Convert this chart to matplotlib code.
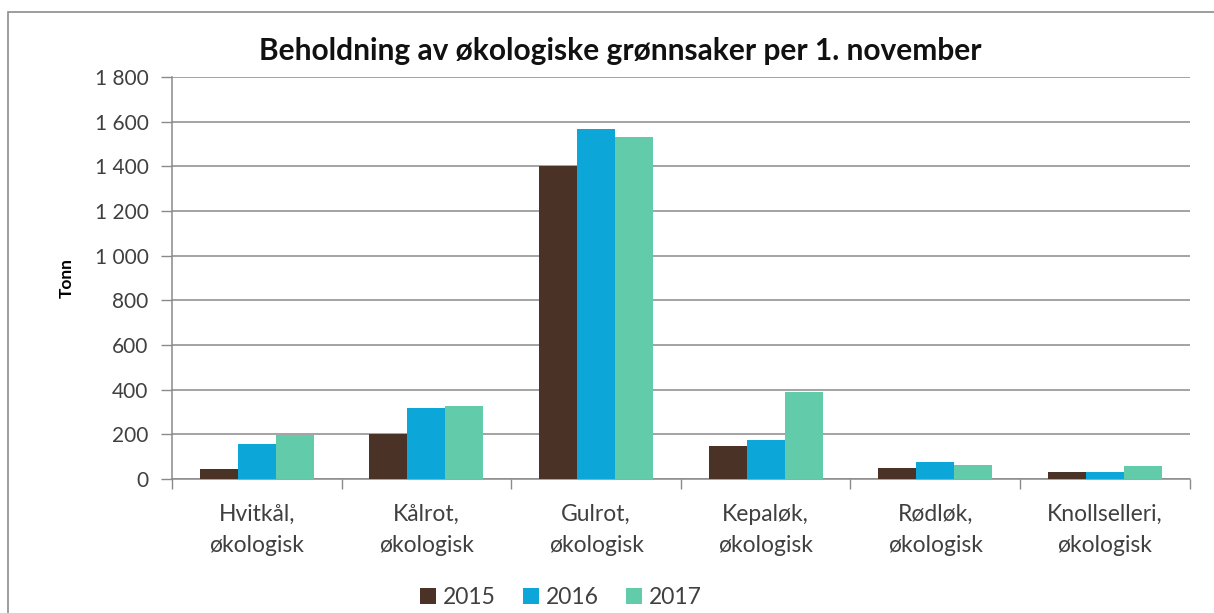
import numpy as np
import matplotlib.pyplot as plt
from matplotlib.patches import Rectangle
from matplotlib.ticker import FuncFormatter

# data (tonn)
categories = ['Hvitkål,\nøkologisk', 'Kålrot,\nøkologisk', 'Gulrot,\nøkologisk',
              'Kepaløk,\nøkologisk', 'Rødløk,\nøkologisk', 'Knollselleri,\nøkologisk']
years = ['2015', '2016', '2017']
v2015 = [46, 200, 1403, 148, 48, 30]
v2016 = [156, 316, 1567, 175, 75, 30]
v2017 = [195, 327, 1531, 390, 64, 57]
colors = ['#4B3227', '#0DA6D8', '#62CBA9']

plt.rcParams['font.family'] = ['Lato', 'DejaVu Sans']

fig = plt.figure(figsize=(12.14, 6.13), dpi=100)
ax = fig.add_axes([0.1417, 0.2186, 0.8383, 0.6558])

# chart frame like the spreadsheet export
fig.patches.append(Rectangle((0.007, -0.01), 1.2, 0.99, transform=fig.transFigure,
                             fill=False, edgecolor='#8c8c8c', linewidth=1.2))

x = np.arange(len(categories))
w = 0.224
for i, (vals, yr) in enumerate(zip([v2015, v2016, v2017], years)):
    ax.bar(x + (i - 1) * w, vals, width=w, color=colors[i], label=yr, zorder=3)

ax.set_xlim(-0.5, len(categories) - 0.5)
ax.set_ylim(0, 1800)
ax.set_yticks(np.arange(0, 1801, 200))
ax.yaxis.set_major_formatter(FuncFormatter(lambda v, p: f'{int(v):,}'.replace(',', ' ')))
ax.grid(axis='y', color='#8a8a8a', linewidth=1.1, zorder=0)

ax.set_xticks(x)
ax.set_xticklabels(categories, fontsize=16.5, color='#404040', linespacing=1.6)
ax.set_xticks(np.arange(-0.5, len(categories)), minor=True)
ax.tick_params(axis='x', which='major', length=0, pad=18)
ax.tick_params(axis='x', which='minor', length=7, color='#8a8a8a', width=1)
ax.tick_params(axis='y', length=8, color='#8a8a8a', width=1, labelsize=15,
               labelcolor='#404040', pad=9)

for s in ['top', 'right']:
    ax.spines[s].set_visible(False)
for s in ['left', 'bottom']:
    ax.spines[s].set_color('#8a8a8a')
    ax.spines[s].set_linewidth(1.1)

ax.set_ylabel('Tonn', fontsize=12.5, fontweight='bold', labelpad=14)
fig.text(0.511, 0.916, 'Beholdning av økologiske grønnsaker per 1. november',
         ha='center', va='center', fontsize=21.5, fontweight='bold', color='#111111')

fig.legend(loc='center', bbox_to_anchor=(0.462, 0.026), ncol=3, frameon=False,
           fontsize=16.5, handlelength=0.7, handleheight=0.7, handletextpad=0.3,
           columnspacing=1.2, labelcolor='#404040')

fig.savefig('out.png', dpi=100)
